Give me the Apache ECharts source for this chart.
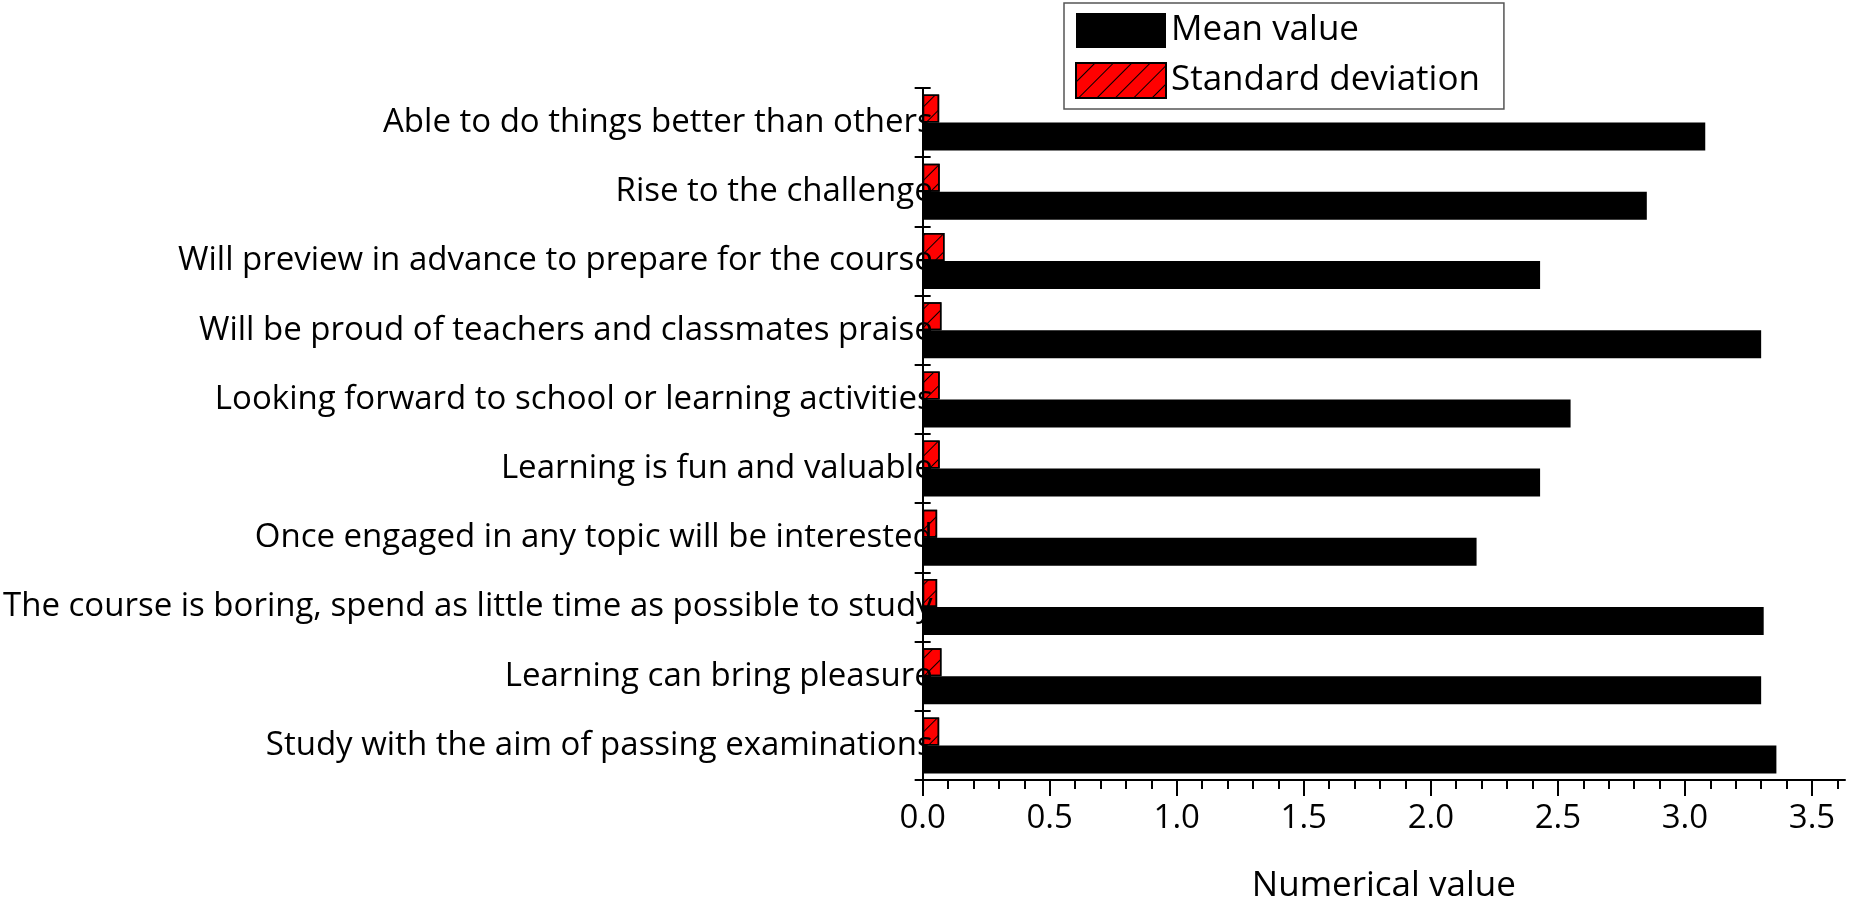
<!DOCTYPE html>
<html>
<head>
<meta charset="utf-8">
<title>Numerical value</title>
<script src="https://cdn.jsdelivr.net/npm/echarts@6.0.0/dist/echarts.min.js"></script>
<style>
    html, body { margin: 0; padding: 0; background: #fff; }
    #main { width: 1850px; height: 909px; }
</style>
</head>
<body>
<div id="main"></div>
<script>
// categories, top to bottom
const categories = [
    'Able to do things better than others',
    'Rise to the challenge',
    'Will preview in advance to prepare for the course',
    'Will be proud of teachers and classmates praise',
    'Looking forward to school or learning activities',
    'Learning is fun and valuable',
    'Once engaged in any topic will be interested',
    'The course is boring, spend as little time as possible to study',
    'Learning can bring pleasure',
    'Study with the aim of passing examinations'
]

// values
const meanValues = [3.08, 2.85, 2.43, 3.30, 2.55, 2.43, 2.18, 3.31, 3.30, 3.36]
const stdValues = [0.065, 0.067, 0.086, 0.074, 0.067, 0.067, 0.057, 0.057, 0.074, 0.065]

// x axis ticks
const majorTicks = [0, 0.5, 1, 1.5, 2, 2.5, 3, 3.5]
const minorTicks = [0.1, 0.2, 0.3, 0.4, 0.6, 0.7, 0.8, 0.9, 1.1, 1.2, 1.3, 1.4,
    1.6, 1.7, 1.8, 1.9, 2.1, 2.2, 2.3, 2.4, 2.6, 2.7, 2.8, 2.9, 3.1, 3.2, 3.3, 3.4, 3.6]

const FONT = 'Open Sans'

const meanChart = {

    init() {
        let main = document.getElementById('main')
        let chart = echarts.init(main, null, { renderer: 'canvas' })
        chart.setOption(this.createOption())
    },

    createOption() {
        let xMax = 3.63

        return {
            animation: false,
            backgroundColor: '#fff',
            textStyle: { fontFamily: FONT, color: '#000' },
            legend: {
                orient: 'vertical',
                left: 1064,
                top: 3,
                padding: [10, 24, 10, 11],
                itemGap: 14,
                itemWidth: 90,
                itemHeight: 35,
                icon: 'rect',
                borderColor: '#555',
                borderWidth: 1.5,
                textStyle: { fontFamily: FONT, fontSize: 35, color: '#000' },
                data: ['Mean value', 'Standard deviation']
            },
            grid: {
                left: 906,
                right: 5,
                top: 88,
                bottom: 128,
                containLabel: false
            },
            xAxis: [{
                type: 'value',
                min: 0,
                max: xMax,
                name: 'Numerical value',
                nameLocation: 'middle',
                nameGap: 89,
                nameTextStyle: { fontFamily: FONT, fontSize: 35, color: '#000' },
                splitLine: { show: false },
                axisLine: { show: true, lineStyle: { color: '#000', width: 2 } },
                axisTick: {
                    show: true,
                    length: 16,
                    customValues: majorTicks,
                    lineStyle: { color: '#000', width: 2 }
                },
                axisLabel: {
                    customValues: majorTicks,
                    margin: 22,
                    fontFamily: FONT,
                    fontSize: 33,
                    color: '#000',
                    formatter: v => v.toFixed(1)
                }
            }, {
                // minor ticks
                type: 'value',
                min: 0,
                max: xMax,
                position: 'bottom',
                splitLine: { show: false },
                axisLine: { show: false },
                axisLabel: { show: false },
                axisTick: {
                    show: true,
                    length: 9,
                    customValues: minorTicks,
                    lineStyle: { color: '#000', width: 2 }
                }
            }],
            yAxis: [{
                type: 'category',
                inverse: true,
                data: categories,
                z: 3,
                axisLine: { show: true, lineStyle: { color: '#000', width: 2 } },
                axisTick: { show: true, length: 8, lineStyle: { color: '#000', width: 2 } },
                axisLabel: {
                    margin: -10,
                    fontFamily: FONT,
                    fontSize: 33,
                    color: '#000'
                }
            }, {
                // ticks crossing to the inside
                type: 'category',
                inverse: true,
                position: 'left',
                data: categories,
                z: 3,
                axisLine: { show: false },
                axisLabel: { show: false },
                axisTick: { show: true, inside: true, length: 8, lineStyle: { color: '#000', width: 2 } }
            }],
            series: [{
                name: 'Standard deviation',
                type: 'bar',
                yAxisIndex: 0,
                barWidth: 28,
                barGap: '0%',
                data: stdValues,
                itemStyle: {
                    color: '#ff0000',
                    borderColor: '#000',
                    borderWidth: 1.5,
                    decal: {
                        symbol: 'rect',
                        symbolSize: 1,
                        color: '#000',
                        dashArrayX: [1, 0],
                        dashArrayY: [1, 12],
                        rotation: -Math.PI / 4
                    }
                }
            }, {
                name: 'Mean value',
                type: 'bar',
                yAxisIndex: 0,
                barWidth: 28,
                barGap: '0%',
                data: meanValues,
                itemStyle: { color: '#000' }
            }]
        }
    }
}

meanChart.init()
</script>
</body>
</html>
